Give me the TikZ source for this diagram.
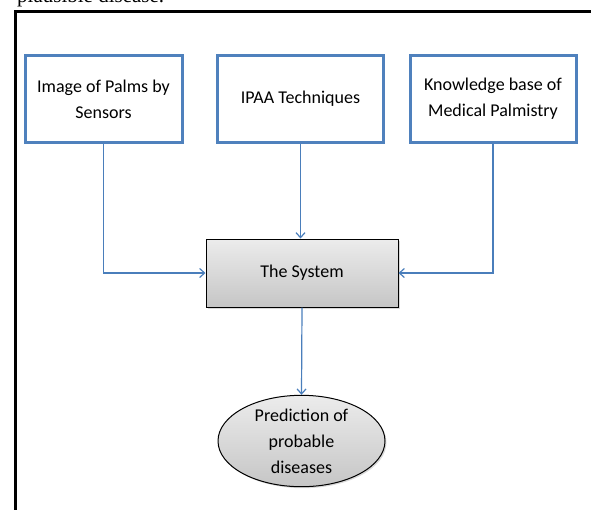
\documentclass[tikz,border=0pt]{standalone}
\usepackage{fontspec}
\setmainfont{Carlito}
\newfontfamily\serifdoc{Liberation Serif}
\usetikzlibrary{arrows.meta,shapes.geometric,shadows}
\definecolor{boxblue}{HTML}{4F81BD}
\definecolor{arrowblue}{HTML}{4A7EBB}
\tikzset{
  inbox/.style={draw=boxblue,line width=3pt,fill=white,minimum width=157pt,minimum height=87pt,align=center,font=\fontsize{18}{26}\selectfont,inner sep=0pt},
  sysbox/.style={draw=black,line width=1pt,top color=gray!15,bottom color=gray!45,minimum width=192pt,minimum height=68pt,font=\fontsize{18}{20}\selectfont,drop shadow={shadow xshift=1.5pt,shadow yshift=-1.5pt,opacity=0.3}},
  outell/.style={ellipse,draw=black,line width=1pt,top color=gray!15,bottom color=gray!45,minimum width=167pt,minimum height=88pt,inner sep=0pt,align=center,font=\fontsize{18}{26}\selectfont,drop shadow={shadow xshift=1.5pt,shadow yshift=-1.5pt,opacity=0.3}},
  conn/.style={draw=arrowblue,line width=1.2pt,-{Straight Barb[length=5pt,width=9pt]}},
  frame/.style={line width=3pt,draw=black}
}
\begin{document}
\begin{tikzpicture}[x=1pt,y=-1pt]
\useasboundingbox (0,0) rectangle (591,509);
\clip (0,0) rectangle (591,509);
\node[anchor=base west,inner sep=0pt,font=\serifdoc\fontsize{21}{24}\selectfont] (cap) at (17,2.5) {plausible disease.};
\draw[frame] (15,520) -- (15,11) -- (600,11);
\node[inbox] (img) at (103.5,99) {Image of Palms by\\Sensors};
\node[inbox,minimum width=166pt] (ipaa) at (300.5,99) {IPAA Techniques};
\node[inbox,minimum width=166pt] (kb) at (493,99) {Knowledge base of\\Medical Palmistry};
\node[sysbox] (sys) at (302,273) {The System};
\node[outell] (pred) at (301.5,441) {Prediction of\\probable\\diseases};
\draw[conn] (img.south) |- (sys.west);
\draw[conn] (ipaa.south) -- (ipaa.south |- sys.north);
\draw[conn] (kb.south) |- (sys.east);
\draw[conn] (sys.south) -- (pred.north);
\end{tikzpicture}
\end{document}
